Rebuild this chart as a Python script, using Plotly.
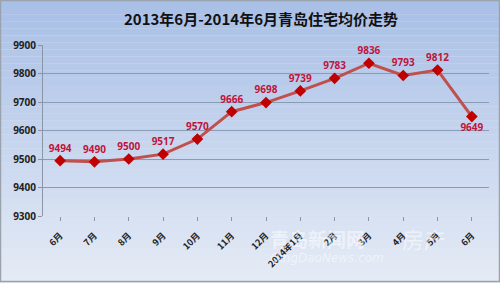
import plotly.graph_objects as go

months = ["6月", "7月", "8月", "9月", "10月", "11月", "12月", "2014年1月",
          "2月", "3月", "4月", "5月", "6月"]
prices = [9494, 9490, 9500, 9517, 9570, 9666, 9698, 9739, 9783, 9836, 9793, 9812, 9649]
y_ticks = [9300, 9400, 9500, 9600, 9700, 9800, 9900]

W, H = 500, 283
L, R, T, B = 43, 11, 45, 67
pw, ph = W - L - R, H - T - B

idx = list(range(len(months)))
positions = ["top center"] * (len(prices) - 1) + ["bottom center"]

fig = go.Figure()
fig.add_trace(go.Scatter(
    x=idx, y=prices, mode="lines+markers+text",
    line=dict(color="#c0504d", width=3),
    marker=dict(symbol="diamond", size=9, color="#c00000"),
    text=[str(v) for v in prices], textposition=positions,
    textfont=dict(family="Open Sans", size=10, color="#c0143c", weight="bold"),
    cliponaxis=False, hoverinfo="skip",
))

# gradient background strips
shapes = []
n = 40
top = (168, 191, 230)
bot = (230, 236, 246)
x0p, x1p = -L / pw, 1 + R / pw
for i in range(n):
    f0 = i / n
    f1 = (i + 1) / n
    c = tuple(int(top[k] + (bot[k] - top[k]) * (f0 + 0.5 / n)) for k in range(3))
    py0, py1 = f0 * H, f1 * H
    shapes.append(dict(type="rect", xref="paper", yref="paper", layer="below",
                       x0=x0p, x1=x1p,
                       y0=(H - B - py1) / ph, y1=(H - B - py0) / ph,
                       line=dict(width=0), fillcolor="rgb(%d,%d,%d)" % c))
shapes.append(dict(type="rect", xref="paper", yref="paper", layer="above",
                   x0=x0p + 0.5 / pw, x1=x1p - 0.5 / pw,
                   y0=-(B - 1.5) / ph, y1=(H - B - 0.5) / ph,
                   line=dict(width=1.5, color="#9aa3ad"), fillcolor="rgba(0,0,0,0)"))

wm = "rgba(255,255,255,0.5)"
fig.update_layout(
    width=W, height=H, margin=dict(l=L, r=R, t=T, b=B),
    paper_bgcolor="#dfe7f4", plot_bgcolor="rgba(0,0,0,0)",
    showlegend=False, shapes=shapes,
    title=dict(text="2013年6月-2014年6月青岛住宅均价走势", x=0.522, xanchor="center",
               y=1 - 20 / H, yanchor="middle",
               font=dict(family="Noto Sans CJK SC", size=15, color="#111111", weight="bold")),
    xaxis=dict(range=[-0.5, 12.5], tickvals=idx, ticktext=months, tickangle=-45,
               showgrid=False, zeroline=False, showline=False,
               ticks="outside", ticklen=4, tickcolor="#8a96a8", ticklabelstandoff=6,
               tickfont=dict(family="Noto Sans CJK SC", size=9, color="#222222", weight="bold")),
    yaxis=dict(range=[9300, 9900], tickvals=y_ticks, ticktext=[str(v) for v in y_ticks],
               showgrid=True, gridcolor="#8a9bb5",
               gridwidth=1, zeroline=False, showline=True, linecolor="#8a96a8",
               ticks="outside", ticklen=4, tickcolor="#8a96a8",
               tickfont=dict(family="Open Sans", size=10, color="#222222", weight="bold")),
    annotations=[
        dict(text="青岛新闻网", x=(268 - L) / pw, y=(H - B - 238) / ph, xref="paper", yref="paper",
             xanchor="left", yanchor="middle", showarrow=False,
             font=dict(family="Noto Sans CJK SC", size=19, color=wm, weight="bold")),
        dict(text="房产", x=(400 - L) / pw, y=(H - B - 238) / ph, xref="paper", yref="paper",
             xanchor="left", yanchor="middle", showarrow=False,
             font=dict(family="Noto Sans CJK SC", size=22, color=wm)),
        dict(text="<i>QingDaoNews.com</i>", x=(268 - L) / pw, y=(H - B - 258) / ph, xref="paper", yref="paper",
             xanchor="left", yanchor="middle", showarrow=False,
             font=dict(family="DejaVu Sans", size=12, color=wm)),
    ],
)

fig.write_html("out.html")
